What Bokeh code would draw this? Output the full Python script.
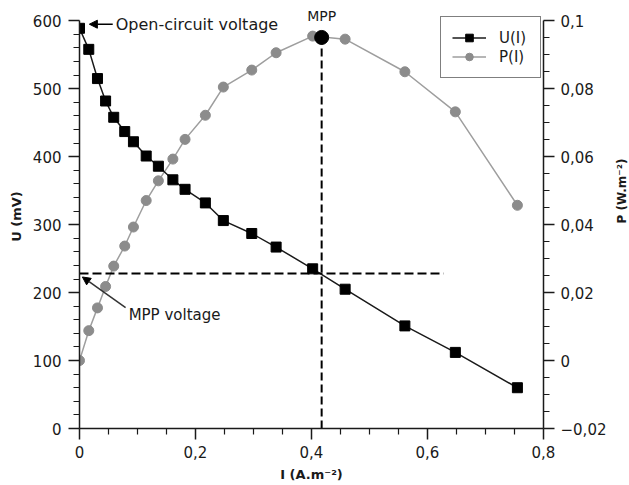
import math
from bokeh.plotting import figure
from bokeh.layouts import row
from bokeh.models import (Range1d, LinearAxis, FixedTicker, CustomJSTickFormatter, Label,
                          Arrow, NormalHead, Legend, LegendItem, ColumnDataSource)
from bokeh.embed import file_html
from bokeh.resources import INLINE

# ---- data ----
current_I = [0.0, 0.016, 0.031, 0.045, 0.059, 0.078, 0.093, 0.115, 0.136, 0.161,
             0.182, 0.217, 0.248, 0.297, 0.339, 0.402, 0.458, 0.561, 0.648, 0.755]
voltage_U = [589, 558, 515, 482, 458, 437, 422, 401, 386, 366,
             352, 332, 306, 287, 267, 235, 205, 151, 112, 60]
power_P = [0.0, 0.0088, 0.0155, 0.0218, 0.0278, 0.0337, 0.0393, 0.0471, 0.0529, 0.0593,
           0.0651, 0.0722, 0.0805, 0.0855, 0.0906, 0.0955, 0.0946, 0.0850, 0.0732, 0.0457]

mpp_I = 0.4175
mpp_P = 0.0951
mpp_U = 228
mpp_line_end_I = 0.628

x_ticks = [0, 0.2, 0.4, 0.6, 0.8]
x_minor = [0.05, 0.1, 0.15, 0.25, 0.3, 0.35, 0.45, 0.5, 0.55, 0.65, 0.7, 0.75]
u_ticks = [0, 100, 200, 300, 400, 500, 600]
u_minor = [20, 40, 60, 80, 120, 140, 160, 180, 220, 240, 260, 280, 320, 340, 360, 380,
           420, 440, 460, 480, 520, 540, 560, 580]
p_ticks = [-0.02, 0, 0.02, 0.04, 0.06, 0.08, 0.1]
p_minor = [-0.015, -0.01, -0.005, 0.005, 0.01, 0.015, 0.025, 0.03, 0.035, 0.045, 0.05, 0.055,
           0.065, 0.07, 0.075, 0.085, 0.09, 0.095]

x_title = "I (A.m⁻²)"
u_title = "U (mV)"
p_title = "P (W.m⁻²)"

U_AXIS = (0, 600)
P_AXIS = (-0.02, 0.1)
U_VIEW_TOP = 624                      # headroom above the axes for the "MPP" label
P_VIEW_TOP = P_AXIS[0] + (P_AXIS[1] - P_AXIS[0]) * U_VIEW_TOP / U_AXIS[1]

FONT = "DejaVu Sans"
INK = "#1a1a1a"

p = figure(width=609, height=485, x_range=Range1d(0, 0.8), y_range=Range1d(U_AXIS[0], U_VIEW_TOP),
           output_backend="svg", toolbar_location=None,
           min_border_left=79, min_border_right=64, min_border_top=4, min_border_bottom=57)
p.extra_y_ranges = {"p": Range1d(P_AXIS[0], P_VIEW_TOP)}
p.outline_line_color = None
p.xgrid.visible = False
p.ygrid.visible = False
p.background_fill_color = "white"

fmt = CustomJSTickFormatter(code="""
const r = Math.round(tick * 10000) / 10000;
const s = String(Math.abs(r)).replace('.', ',');
return (r < 0 ? '\\u2212' : '') + s;
""")

right_axis = LinearAxis(y_range_name="p")
p.add_layout(right_axis, "right")

p.xaxis.ticker = FixedTicker(ticks=x_ticks, minor_ticks=x_minor)
p.yaxis[0].ticker = FixedTicker(ticks=u_ticks, minor_ticks=u_minor)
right_axis.ticker = FixedTicker(ticks=p_ticks, minor_ticks=p_minor)
p.xaxis.formatter = fmt
right_axis.formatter = fmt
p.yaxis[0].bounds = U_AXIS
right_axis.bounds = P_AXIS

for ax in [p.xaxis[0], p.yaxis[0], right_axis]:
    ax.axis_line_color = INK
    ax.axis_line_width = 1.5
    ax.major_tick_line_color = INK
    ax.major_tick_line_width = 1.5
    ax.minor_tick_line_color = INK
    ax.minor_tick_line_width = 1.2
    ax.major_tick_in = 0
    ax.major_tick_out = 11
    ax.minor_tick_in = 0
    ax.minor_tick_out = 6
    ax.major_label_text_font = FONT
    ax.major_label_text_font_size = "15px"
    ax.major_label_text_color = INK
    ax.axis_label_text_font = FONT
    ax.axis_label_text_font_size = "13px"
    ax.axis_label_text_font_style = "bold"
    ax.axis_label_text_color = INK

p.xaxis.major_label_standoff = 6
p.xaxis.axis_label = x_title
p.xaxis.axis_label_standoff = 6
p.yaxis[0].major_label_standoff = 7
p.yaxis[0].axis_label = u_title
p.yaxis[0].axis_label_standoff = 6
right_axis.major_label_standoff = 6

src = ColumnDataSource(dict(I=current_I, U=voltage_U, P=power_P))

p_line = p.line("I", "P", source=src, y_range_name="p", line_color="#9e9e9e", line_width=1.5)
p_pts = p.scatter("I", "P", source=src, y_range_name="p", marker="circle", size=10,
                  fill_color="#8c8c8c", line_color="#8c8c8c")
u_line = p.line("I", "U", source=src, line_color=INK, line_width=1.5)
u_pts = p.scatter("I", "U", source=src, marker="square", size=10,
                  fill_color="black", line_color="black")

# MPP dashed guides
p.line([mpp_I, mpp_I], [P_AXIS[0], mpp_P], y_range_name="p", line_color="black",
       line_width=2, line_dash="8 4")
p.line([0, mpp_line_end_I], [mpp_U, mpp_U], line_color="black", line_width=2, line_dash="9 4")
p.scatter([mpp_I], [mpp_P], y_range_name="p", marker="circle", size=14,
          fill_color="black", line_color="black")

legend = Legend(items=[LegendItem(label="U(I)", renderers=[u_line, u_pts]),
                       LegendItem(label="P(I)", renderers=[p_line, p_pts])],
                location=(361, 350), margin=0, padding=11, spacing=0,
                glyph_width=34, glyph_height=19, label_standoff=13, label_width=30,
                label_text_font=FONT, label_text_font_size="15px", label_text_color=INK,
                border_line_color="black", border_line_width=1, background_fill_alpha=1)
p.add_layout(legend)

# annotations
p.add_layout(Label(x=0.0624, y=595, text="Open-circuit voltage", text_font=FONT,
                   text_font_size="16px", text_color=INK, text_align="left",
                   text_baseline="middle"))
p.add_layout(Arrow(end=NormalHead(size=8, fill_color="black", line_color="black"),
                   x_start=0.0573, y_start=595, x_end=0.0170, y_end=595,
                   line_width=1.5, line_color="black"))

p.add_layout(Label(x=0.0847, y=167, text="MPP voltage", text_font=FONT,
                   text_font_size="15px", text_color=INK, text_align="left",
                   text_baseline="middle"))
p.add_layout(Arrow(end=NormalHead(size=8, fill_color="black", line_color="black"),
                   x_start=0.0795, y_start=178, x_end=0.0050, y_end=223,
                   line_width=1.5, line_color="#333333"))

p.add_layout(Label(x=mpp_I, y=607.5, text="MPP", text_font=FONT, text_font_size="14px",
                   text_color=INK, text_align="center", text_baseline="middle"))

# narrow strip to the right that carries the right-axis title, reading bottom-to-top
strip = figure(width=20, height=485, x_range=Range1d(0, 1), y_range=Range1d(0, 1),
               output_backend="svg", toolbar_location=None, min_border=0,
               x_axis_type=None, y_axis_type=None)
strip.outline_line_color = None
strip.grid.visible = False
strip.add_layout(Label(x=0.6, y=0.56, text=p_title, text_font=FONT, text_font_size="12px",
                       text_font_style="bold", text_color=INK, text_align="center",
                       text_baseline="middle", angle=math.pi / 2))

layout = row(p, strip, spacing=0)
open("out.html", "w").write(file_html(layout, INLINE))
